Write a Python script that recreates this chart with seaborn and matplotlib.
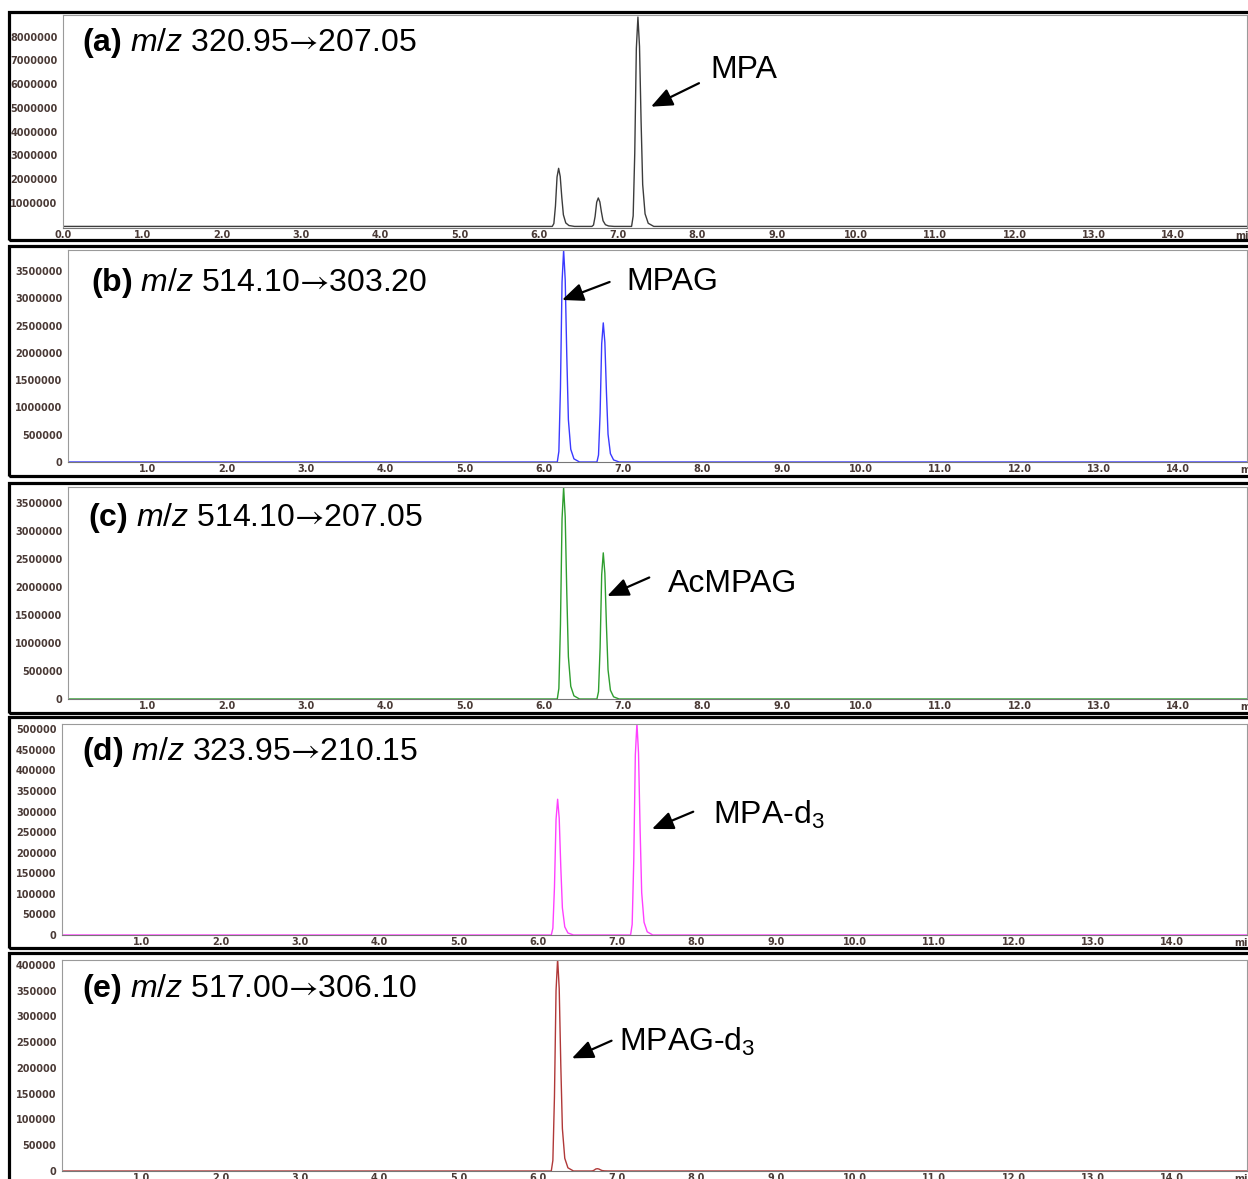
import pandas as pd
import seaborn as sns
import matplotlib.pyplot as plt
from matplotlib.patches import Rectangle
from matplotlib.ticker import MultipleLocator, FixedLocator, FuncFormatter

# retention time grid (min) shared by all traces
rt = [0.0,
      6.17, 6.19, 6.21, 6.23, 6.25, 6.27, 6.29, 6.31, 6.34, 6.38, 6.45,
      6.67, 6.69, 6.71, 6.73, 6.75, 6.77, 6.79, 6.81, 6.84, 6.88, 6.95,
      7.17, 7.19, 7.21, 7.23, 7.25, 7.27, 7.29, 7.31, 7.34, 7.38, 7.45,
      15.0]

# intensities
int_a = [0,
         0, 122000, 858000, 2083000, 2450000, 2107000, 1225000, 490000, 147000, 37000, 0,
         0, 60000, 420000, 1020000, 1200000, 1032000, 600000, 240000, 72000, 18000, 0,
         0, 442000, 3090000, 7505000, 8830000, 7594000, 4415000, 1766000, 530000, 132000, 0,
         0]
int_b = [0,
         0, 194000, 1358000, 3298000, 3880000, 3337000, 1940000, 776000, 233000, 58000, 0,
         0, 128000, 893000, 2168000, 2550000, 2193000, 1275000, 510000, 153000, 38000, 0,
         0, 0, 0, 0, 0, 0, 0, 0, 0, 0, 0,
         0]
int_c = [0,
         0, 189000, 1323000, 3213000, 3780000, 3251000, 1890000, 756000, 227000, 57000, 0,
         0, 131000, 914000, 2219000, 2610000, 2245000, 1305000, 522000, 157000, 39000, 0,
         0, 0, 0, 0, 0, 0, 0, 0, 0, 0, 0,
         0]
int_d = [0,
         0, 16500, 115500, 280500, 330000, 283800, 165000, 66000, 19800, 4950, 0,
         0, 0, 0, 0, 0, 0, 0, 0, 0, 0, 0,
         0, 25750, 180250, 437750, 515000, 442900, 257500, 103000, 30900, 7725, 0,
         0]
int_e = [0,
         0, 20600, 144200, 350200, 412000, 354300, 206000, 82400, 24700, 6180, 0,
         0, 225, 1575, 3825, 4500, 3870, 2250, 900, 270, 68, 0,
         0, 0, 0, 0, 0, 0, 0, 0, 0, 0, 0,
         0]

titles = [r"$\mathbf{(a)}$ $\mathit{m/z}$ 320.95$\mathsf{→}$207.05",
          r"$\mathbf{(b)}$ $\mathit{m/z}$ 514.10$\mathsf{→}$303.20",
          r"$\mathbf{(c)}$ $\mathit{m/z}$ 514.10$\mathsf{→}$207.05",
          r"$\mathbf{(d)}$ $\mathit{m/z}$ 323.95$\mathsf{→}$210.15",
          r"$\mathbf{(e)}$ $\mathit{m/z}$ 517.00$\mathsf{→}$306.10"]
compounds = ["MPA", "MPAG", "AcMPAG", "MPA-d$_3$", "MPAG-d$_3$"]
# arrow tip, arrow tail, label position (min, intensity)
arrow_tip = [(7.415, 5.05e6), (6.23, 2.97e6), (6.80, 1.84e6), (7.44, 257700), (6.43, 218800)]
arrow_tail = [(8.02, 6.04e6), (6.83, 3.30e6), (7.33, 2.17e6), (7.96, 299700), (6.93, 253000)]
label_pos = [(8.16, 6.6e6), (7.04, 3.30e6), (7.57, 2.05e6), (8.21, 291700), (7.02, 251000)]

intensities = [int_a, int_b, int_c, int_d, int_e]
colors = ["#3c3c3c", "#3a3aff", "#2e9e2e", "#ff40ff", "#b03838"]
y_ticks = [[1e6 * k for k in range(1, 9)],
           [5e5 * k for k in range(0, 8)],
           [5e5 * k for k in range(0, 8)],
           [5e4 * k for k in range(0, 11)],
           [5e4 * k for k in range(0, 9)]]
y_lims = [(-67000, 8.916e6), (0, 3.886e6), (0, 3.786e6), (0, 512900), (0, 409700)]

# layout in pixels: axes left/top/bottom, frame top/bottom, title position
W, H = 1248, 1179
ax_left = [63, 68, 68, 62, 62]
ax_top = [15, 250, 487, 724, 960]
ax_bottom = [228, 462, 699, 935, 1171]
ax_right = 1247
frame_top = [12, 246, 483, 717, 953]
frame_bottom = [240, 476, 713, 948, 1200]
title_xy = [(82, 43), (91, 283), (88, 518), (82, 752), (82, 989)]
px_per_min = 79.3

sns.set_style("white")
plt.rcParams['font.family'] = ['Liberation Sans', 'DejaVu Sans']
plt.rcParams['mathtext.fontset'] = 'custom'
plt.rcParams['mathtext.rm'] = 'Liberation Sans'
plt.rcParams['mathtext.it'] = 'Liberation Sans:italic'
plt.rcParams['mathtext.bf'] = 'Liberation Sans:bold'
plt.rcParams['mathtext.sf'] = 'STIXGeneral'

fig = plt.figure(figsize=(W / 100, H / 100), dpi=100)
tick_color = "#4a3a36"

for i in range(5):
    # black frame around each panel
    fig.patches.append(Rectangle((9 / W, 1 - frame_bottom[i] / H),
                                 (1400 - 9) / W, (frame_bottom[i] - frame_top[i]) / H,
                                 transform=fig.transFigure, fill=False,
                                 edgecolor="black", lw=2.3, zorder=0))
    ax = fig.add_axes([ax_left[i] / W, 1 - ax_bottom[i] / H,
                       (ax_right - ax_left[i]) / W, (ax_bottom[i] - ax_top[i]) / H])
    df = pd.DataFrame({"rt": rt, "intensity": intensities[i]})
    sns.lineplot(data=df, x="rt", y="intensity", ax=ax, color=colors[i], lw=1.0)
    ax.set_xlim(0, (ax_right - ax_left[i]) / px_per_min)
    ax.set_ylim(*y_lims[i])
    ax.set_xlabel("")
    ax.set_ylabel("")
    for s in ax.spines.values():
        s.set_color("#9a9a9a")
        s.set_linewidth(0.8)
    ax.spines["bottom"].set_color("#777777")

    xt = [float(k) for k in range(0 if i == 0 else 1, 15)]
    ax.xaxis.set_major_locator(FixedLocator(xt))
    ax.xaxis.set_minor_locator(MultipleLocator(0.2))
    ax.xaxis.set_major_formatter(FuncFormatter(lambda v, p: f"{v:.1f}"))
    ax.yaxis.set_major_locator(FixedLocator(y_ticks[i]))
    ax.yaxis.set_minor_locator(MultipleLocator((y_ticks[i][1] - y_ticks[i][0]) / 5))
    ax.yaxis.set_major_formatter(FuncFormatter(lambda v, p: f"{int(round(v))}"))
    ax.tick_params(axis="x", which="major", direction="in", length=5, width=0.8,
                   color="#555555", pad=1.5, labelsize=7, labelcolor=tick_color)
    ax.tick_params(axis="x", which="minor", direction="in", length=2.5, width=0.7,
                   color="#555555")
    ax.tick_params(axis="y", which="major", direction="out", length=3, width=0.8,
                   color="#555555", pad=1, labelsize=7, labelcolor=tick_color)
    ax.tick_params(axis="y", which="minor", direction="out", length=1.5, width=0.6,
                   color="#777777")
    for lab in ax.get_xticklabels() + ax.get_yticklabels():
        lab.set_family("DejaVu Sans")
        lab.set_fontweight("bold")
    ax.text(14.78, -0.012, "min", transform=ax.get_xaxis_transform(), va="top",
            ha="left", fontsize=7, color=tick_color, family="DejaVu Sans",
            fontweight="bold", clip_on=False)

    ax.annotate("", xy=arrow_tip[i], xytext=arrow_tail[i],
                arrowprops=dict(arrowstyle="-|>,head_length=1.3,head_width=0.55",
                                color="black", lw=1.6, shrinkA=0, shrinkB=0,
                                mutation_scale=10))
    ax.text(label_pos[i][0], label_pos[i][1], compounds[i], fontsize=23,
            ha="left", va="center", color="black")

    fig.text(title_xy[i][0] / W, 1 - title_xy[i][1] / H, titles[i], fontsize=23,
             ha="left", va="center", color="black")

fig.savefig("out.png", dpi=100)
